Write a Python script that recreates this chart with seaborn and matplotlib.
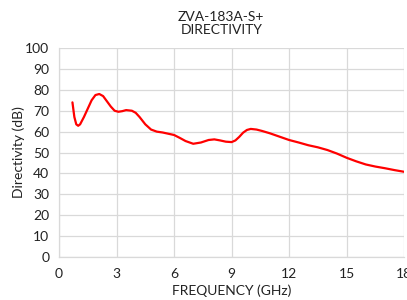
import matplotlib
matplotlib.use("Agg")
import matplotlib.pyplot as plt
import seaborn as sns
import pandas as pd

freq = [0.7, 0.8, 0.9, 1.0, 1.1, 1.3, 1.5, 1.7, 1.9, 2.1, 2.3, 2.5, 2.7, 2.9, 3.1, 3.3, 3.5, 3.8, 4.0, 4.2, 4.5, 4.8, 5.1, 5.4, 5.7, 6.0, 6.3, 6.6, 7.0, 7.4, 7.8, 8.1, 8.4, 8.7, 9.0, 9.2, 9.4, 9.6, 9.8, 10.0, 10.3, 10.6, 11.0, 11.5, 12.0, 12.5, 13.0, 13.5, 14.0, 14.5, 15.0, 15.5, 16.0, 16.5, 17.0, 17.5, 18.0]
directivity = [74.0, 67.0, 63.5, 62.8, 63.5, 67.0, 71.0, 75.0, 77.5, 78.0, 77.0, 74.5, 72.0, 70.0, 69.5, 69.8, 70.3, 70.0, 69.0, 67.0, 63.5, 61.0, 60.0, 59.6, 59.0, 58.4, 57.0, 55.5, 54.2, 54.8, 56.0, 56.3, 55.8, 55.2, 55.0, 55.8, 57.5, 59.5, 60.8, 61.3, 61.0, 60.3, 59.2, 57.6, 56.0, 54.8, 53.5, 52.5, 51.2, 49.5, 47.5, 45.8, 44.3, 43.3, 42.5, 41.6, 40.8]
xticks = [0, 3, 6, 9, 12, 15, 18]
yticks = list(range(0, 101, 10))

sns.set_theme(style="whitegrid")
plt.rcParams['font.family'] = ['Lato', 'DejaVu Sans']

df = pd.DataFrame({"freq": freq, "dir": directivity})
fig = plt.figure(figsize=(4.07, 3.0), dpi=100)
ax = fig.add_axes([0.145, 0.143, 0.848, 0.697])
sns.lineplot(data=df, x="freq", y="dir", ax=ax, color="#ff0000", linewidth=1.6)
ax.set_xlim(0, 18)
ax.set_ylim(0, 100)
ax.set_xticks(xticks)
ax.set_yticks(yticks)
ax.grid(True, color="#d9d9d9", linewidth=0.9)
for s in ["top", "right"]:
    ax.spines[s].set_visible(False)
for s in ["left", "bottom"]:
    ax.spines[s].set_color("#d9d9d9")
    ax.spines[s].set_linewidth(0.9)
ax.tick_params(axis="both", labelsize=10, colors="#222222", length=0)
ax.tick_params(axis="x", pad=8)
ax.tick_params(axis="y", pad=7)
ax.set_xlabel("FREQUENCY (GHz)", fontsize=10, color="#222222", labelpad=3)
ax.set_ylabel("Directivity (dB)", fontsize=10, color="#222222", labelpad=0)
ax.set_title("ZVA-183A-S+\nDIRECTIVITY", fontsize=10, color="#222222", pad=10, linespacing=1.1, x=0.47)
fig.savefig("out.png", dpi=100)
